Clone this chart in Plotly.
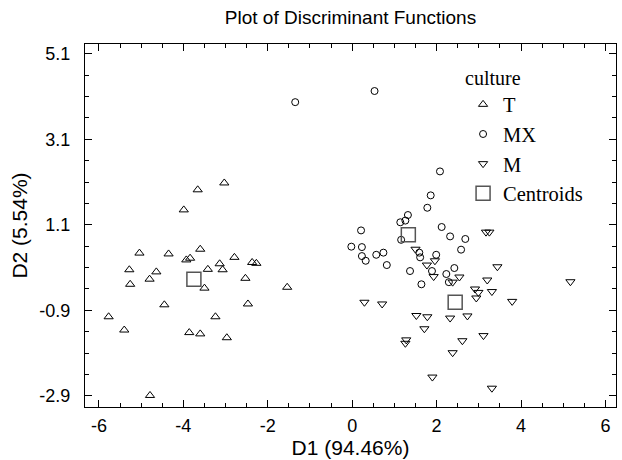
import plotly.graph_objects as go

# culture T
t_x = [-3.03, -3.66, -3.99, -5.04, -4.35, -3.60, -3.93, -3.84, -2.79, -2.37, -2.27, -3.14,
       -5.28, -4.64, -3.42, -3.07, -4.80, -5.26, -2.53, -3.50, -1.54, -4.45, -2.47, -5.77,
       -3.24, -5.40, -3.86, -3.60, -2.97, -4.79]
t_y = [2.08, 1.92, 1.45, 0.44, 0.42, 0.53, 0.28, 0.32, 0.34, 0.22, 0.20, 0.19,
       0.05, 0.00, 0.06, 0.05, -0.17, -0.29, -0.15, -0.38, -0.36, -0.77, -0.75, -1.05,
       -1.05, -1.36, -1.42, -1.45, -1.54, -2.89]

# culture MX
mx_x = [-1.35, 0.53, 2.08, 1.86, 1.78, 1.32, 1.26, 1.14, 0.21, 2.12, 2.32, 2.68, 1.16,
        -0.02, 0.23, 2.58, 0.23, 0.57, 0.74, 0.32, 1.59, 1.61, 1.99, 0.82, 1.37, 1.89,
        2.42, 2.23, 2.29, 1.64]
mx_y = [3.97, 4.23, 2.35, 1.79, 1.50, 1.33, 1.20, 1.16, 0.97, 1.05, 0.83, 0.77, 0.75,
        0.59, 0.58, 0.52, 0.37, 0.40, 0.45, 0.26, 0.45, 0.34, 0.40, 0.16, 0.02, 0.02,
        0.09, -0.05, -0.24, -0.29]

# culture M
m_x = [3.17, 3.25, 1.50, 1.96, 1.77, 1.93, 2.54, 2.38, 3.20, 3.44, 5.17, 2.91, 2.99,
       2.94, 3.31, 3.79, 0.29, 0.71, 1.52, 1.78, 2.32, 2.73, 1.71, 3.11, 2.61, 1.28,
       1.26, 2.38, 1.90, 3.31]
m_y = [0.93, 0.93, 0.53, 0.26, 0.16, -0.11, -0.12, -0.24, -0.19, 0.12, -0.23, -0.40, -0.48,
       -0.61, -0.46, -0.69, -0.71, -0.75, -1.02, -1.05, -1.08, -1.03, -1.33, -1.49, -1.61, -1.59,
       -1.67, -1.89, -2.46, -2.72]

# centroids
c_x = [-3.75, 1.33, 2.44]
c_y = [-0.17, 0.87, -0.71]

x_ticks = [-6, -4, -2, 0, 2, 4, 6]
x_labels = ["-6", "-4", "-2", "0", "2", "4", "6"]
y_ticks = [-2.9, -0.9, 1.1, 3.1, 5.1]
y_labels = ["-2.9", "-0.9", "1.1", "3.1", "5.1"]

SANS = "Liberation Sans, Arial, Helvetica"
SERIF = "Liberation Serif, Times New Roman"

fig = go.Figure()
fig.add_trace(go.Scatter(x=t_x, y=t_y, mode="markers", name="T",
                         marker=dict(symbol="triangle-up-open", size=8, color="black",
                                     line=dict(width=1))))
fig.add_trace(go.Scatter(x=mx_x, y=mx_y, mode="markers", name="MX",
                         marker=dict(symbol="circle-open", size=7, color="black",
                                     line=dict(width=1))))
fig.add_trace(go.Scatter(x=m_x, y=m_y, mode="markers", name="M",
                         marker=dict(symbol="triangle-down-open", size=8, color="black",
                                     line=dict(width=1))))
fig.add_trace(go.Scatter(x=c_x, y=c_y, mode="markers", name="Centroids",
                         marker=dict(symbol="square-open", size=14, color="#555555",
                                     line=dict(width=1.5))))

axis_common = dict(showline=True, linecolor="black", linewidth=1, mirror="ticks",
                   ticks="inside", ticklen=7, tickcolor="black", tickwidth=1,
                   showgrid=False, zeroline=False,
                   tickfont=dict(family=SANS, size=18, color="black"))

fig.update_layout(
    width=622, height=460,
    margin=dict(l=85, r=6, t=44, b=53),
    paper_bgcolor="white", plot_bgcolor="white",
    title=dict(text="Plot of Discriminant Functions", x=0.5635, xanchor="center",
               y=0.962, yanchor="middle",
               font=dict(family=SANS, size=19, color="black")),
    xaxis=dict(range=[-6.33, 6.25], tickmode="array", tickvals=x_ticks, ticktext=x_labels,
               minor=dict(tickmode="linear", tick0=0, dtick=0.5, ticks="inside", ticklen=4,
                          tickcolor="black"),
               ticklabelstandoff=2,
               title=dict(text="D1 (94.46%)", standoff=4,
                          font=dict(family=SANS, size=21, color="black")),
               **axis_common),
    yaxis=dict(range=[-3.16, 5.33], tickmode="array", tickvals=y_ticks, ticktext=y_labels,
               minor=dict(tickmode="linear", tick0=0.1, dtick=0.5, ticks="inside", ticklen=4,
                          tickcolor="black"),
               ticklabelstandoff=10,
               title=dict(text="D2 (5.54%)", standoff=6,
                          font=dict(family=SANS, size=21, color="black")),
               **axis_common),
    legend=dict(x=0.712, y=0.96, xanchor="left", yanchor="top",
                bgcolor="rgba(0,0,0,0)",
                title=dict(text="culture", font=dict(family=SERIF, size=20, color="black")),
                font=dict(family=SERIF, size=20.5, color="black"),
                itemsizing="trace"),
    showlegend=True,
)

fig.write_html("out.html")
